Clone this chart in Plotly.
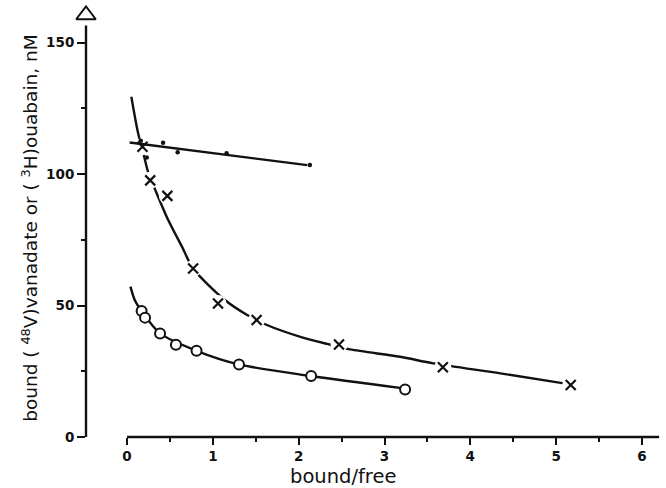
import plotly.graph_objects as go

# ---- data ----
dots_x = [0.16, 0.23, 0.42, 0.59, 1.16, 2.13]
dots_y = [112.7, 106.3, 111.9, 108.3, 107.9, 103.4]
dot_line_x = [0.03, 2.10]
dot_line_y = [112.0, 103.4]

cross_x = [0.18, 0.27, 0.47, 0.77, 1.06, 1.51, 2.47, 3.68, 5.17]
cross_y = [110.4, 97.6, 91.7, 64.1, 50.8, 44.5, 35.2, 26.5, 19.8]
cross_curve_x = [0.05, 0.13, 0.19, 0.25, 0.33, 0.48, 0.64, 0.77, 1.14, 1.40, 1.63,
                 2.02, 2.33, 2.60, 3.18, 3.57, 4.35, 5.09]
cross_curve_y = [129.4, 115.4, 107.9, 100.3, 93.9, 82.5, 72.4, 64.1, 52.1, 46.4, 42.6,
                 38.1, 35.4, 33.3, 30.5, 28.0, 24.2, 20.4]

circle_x = [0.17, 0.21, 0.385, 0.57, 0.81, 1.305, 2.145, 3.24]
circle_y = [47.9, 45.4, 39.4, 35.1, 32.8, 27.6, 23.2, 18.1]
circle_curve_x = [0.04, 0.09, 0.17, 0.385, 0.81, 1.305, 2.145, 3.20]
circle_curve_y = [57.2, 52.1, 47.9, 39.4, 32.8, 27.6, 23.2, 18.6]

x_ticks = [0, 1, 2, 3, 4, 5, 6]
x_minor = [0.5, 1.5, 2.5, 3.5, 4.5, 5.5]
y_ticks = [0, 50, 100, 150]
y_minor = [25, 75, 125]

X_TITLE = "bound/free"
Y_TITLE = "bound ( <sup>48</sup>V)vanadate or ( <sup>3</sup>H)ouabain, nM"

X_RANGE = [-0.478, 6.28]
Y_RANGE = [0, 166.2]

BLACK = "#111111"
fig = go.Figure()

# fitted curves
fig.add_trace(go.Scatter(x=cross_curve_x, y=cross_curve_y, mode="lines",
                         line=dict(color=BLACK, width=2.4, shape="spline", smoothing=0.8),
                         hoverinfo="skip"))
fig.add_trace(go.Scatter(x=circle_curve_x, y=circle_curve_y, mode="lines",
                         line=dict(color=BLACK, width=2.4, shape="spline", smoothing=0.8),
                         hoverinfo="skip"))
# white gaps around crosses
fig.add_trace(go.Scatter(x=cross_x, y=cross_y, mode="markers",
                         marker=dict(symbol="circle", size=17, color="white"),
                         hoverinfo="skip"))
# straight line for dots
fig.add_trace(go.Scatter(x=dot_line_x, y=dot_line_y, mode="lines",
                         line=dict(color=BLACK, width=2.4), hoverinfo="skip"))
# markers
fig.add_trace(go.Scatter(x=cross_x, y=cross_y, mode="markers",
                         marker=dict(symbol="x-thin", size=10,
                                     line=dict(color=BLACK, width=2.2))))
fig.add_trace(go.Scatter(x=circle_x, y=circle_y, mode="markers",
                         marker=dict(symbol="circle", size=10, color="white",
                                     line=dict(color=BLACK, width=2))))
fig.add_trace(go.Scatter(x=dots_x, y=dots_y, mode="markers",
                         marker=dict(symbol="circle", size=4.5, color=BLACK)))

# axis arrows (open triangles)
fig.add_trace(go.Scatter(x=[X_RANGE[0]], y=[160.5], mode="markers", cliponaxis=False,
                         marker=dict(symbol="triangle-up", size=17, color="white",
                                     line=dict(color=BLACK, width=2)),
                         hoverinfo="skip"))
fig.add_trace(go.Scatter(x=[6.30], y=[0], mode="markers", cliponaxis=False,
                         marker=dict(symbol="triangle-right", size=17, color="white",
                                     line=dict(color=BLACK, width=2)),
                         hoverinfo="skip"))

# axis lines
fig.add_shape(type="line", xref="paper", x0=0, x1=0, yref="y", y0=0, y1=156.5,
              line=dict(color=BLACK, width=2.4), layer="below")
fig.add_shape(type="line", xref="x", x0=0, x1=6.2, yref="paper", y0=0, y1=0,
              line=dict(color=BLACK, width=2.4), layer="below")

tickfont = dict(family="DejaVu Sans", size=13.5, color=BLACK, weight="bold")
fig.update_xaxes(range=X_RANGE, showgrid=False, zeroline=False, showline=False,
                 tickmode="array", tickvals=x_ticks, ticktext=[str(v) for v in x_ticks],
                 ticks="outside", ticklen=7, tickwidth=2, tickcolor=BLACK,
                 minor=dict(tickvals=x_minor, ticks="outside", ticklen=4, tickwidth=2,
                            tickcolor=BLACK),
                 tickfont=tickfont)
fig.update_yaxes(range=Y_RANGE, showgrid=False, zeroline=False, showline=False,
                 tickmode="array", tickvals=y_ticks, ticktext=[str(v) for v in y_ticks],
                 ticks="outside", ticklen=8, tickwidth=2, tickcolor=BLACK,
                 minor=dict(tickvals=y_minor, ticks="outside", ticklen=4, tickwidth=2,
                            tickcolor=BLACK),
                 tickfont=tickfont)

fig.add_annotation(text=X_TITLE, xref="paper", yref="paper", x=0.443, y=-0.0915,
                   xanchor="center", yanchor="middle", showarrow=False,
                   font=dict(family="DejaVu Sans", size=19.5, color=BLACK))
fig.add_annotation(text=Y_TITLE, xref="paper", yref="paper", x=-0.097, y=0.478,
                   xanchor="center", yanchor="middle", showarrow=False, textangle=-90,
                   font=dict(family="DejaVu Sans", size=18.5, color=BLACK))

fig.update_layout(width=666, height=488, showlegend=False,
                  margin=dict(l=86, r=0, t=0, b=51),
                  paper_bgcolor="white", plot_bgcolor="white")

fig.write_html("out.html")
